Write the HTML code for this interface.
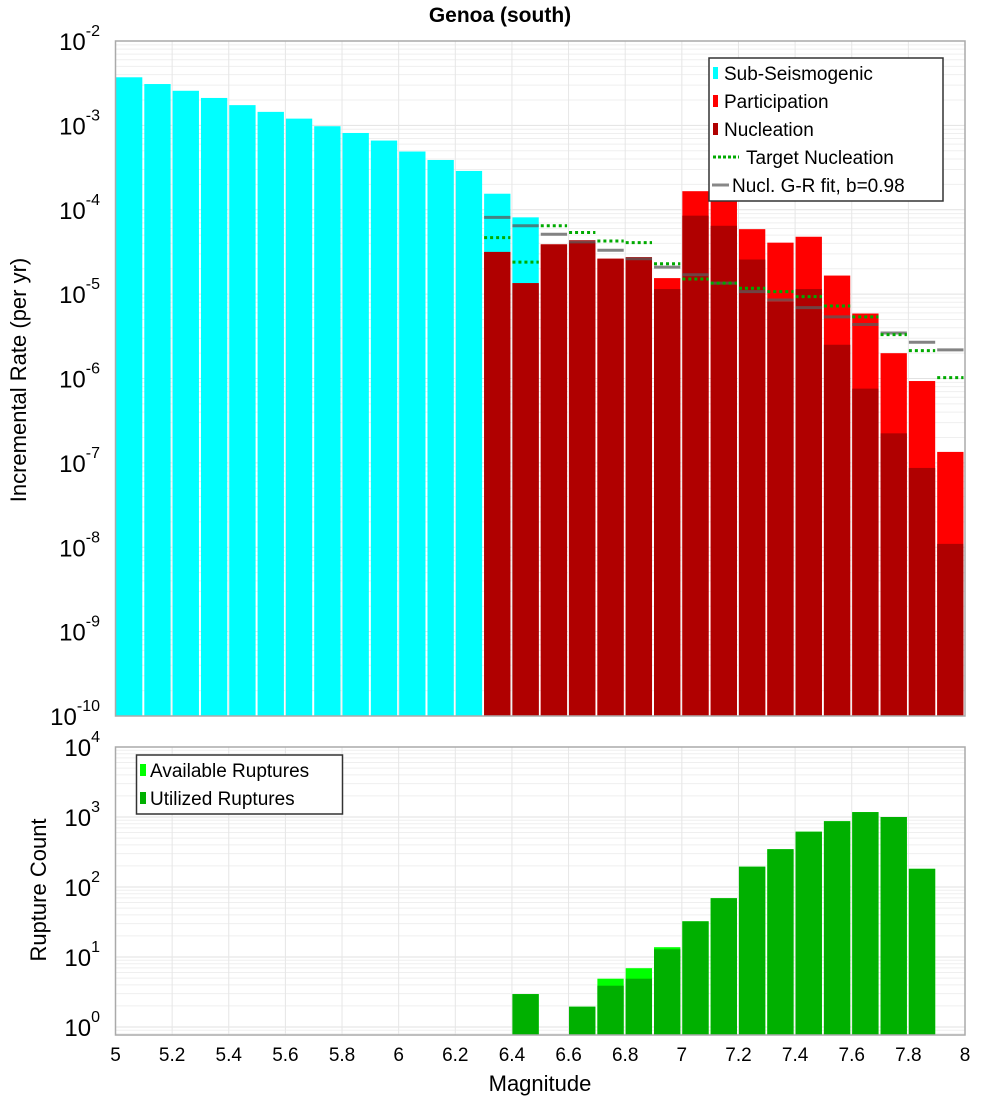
<!DOCTYPE html>
<html><head><meta charset="utf-8"><style>
body{margin:0;background:#fff;}
svg{display:block;font-family:"Liberation Sans","DejaVu Sans",sans-serif;}
</style></head><body>
<svg id="c" width="1000" height="1100"></svg>
<script>
const mags=[5.05,5.15,5.25,5.35,5.45,5.55,5.65,5.75,5.85,5.95,6.05,6.15,6.25,6.35,6.45,6.55,6.65,6.75,6.85,6.95,7.05,7.15,7.25,7.35,7.45,7.55,7.65,7.75,7.85,7.95];
const subSeisLog=[-2.43,-2.51,-2.59,-2.675,-2.76,-2.84,-2.92,-3.01,-3.09,-3.18,-3.31,-3.41,-3.54,-3.81,-4.09,null,null,null,null,null,null,null,null,null,null,null,null,null,null,null];
const partLog=[null,null,null,null,null,null,null,null,null,null,null,null,null,-4.50,-4.87,-4.41,-4.36,-4.58,-4.56,-4.81,-3.78,-3.80,-4.23,-4.39,-4.32,-4.78,-5.23,-5.70,-6.03,-6.87];
const nuclLog=[null,null,null,null,null,null,null,null,null,null,null,null,null,-4.50,-4.87,-4.41,-4.38,-4.58,-4.57,-4.94,-4.07,-4.19,-4.59,-5.09,-4.94,-5.60,-6.12,-6.65,-7.06,-7.96];
const targetLog=[null,null,null,null,null,null,null,null,null,null,null,null,null,-4.33,-4.62,-4.19,-4.27,-4.37,-4.39,-4.64,-4.82,-4.87,-4.93,-4.97,-5.03,-5.14,-5.27,-5.48,-5.67,-5.99];
const fitLog=[null,null,null,null,null,null,null,null,null,null,null,null,null,-4.09,-4.19,-4.29,-4.38,-4.48,-4.58,-4.68,-4.77,-4.87,-4.97,-5.07,-5.16,-5.27,-5.36,-5.46,-5.57,-5.66];
const availLog=[null,null,null,null,null,null,null,null,null,null,null,null,null,null,0.47,null,0.29,0.69,0.84,1.14,1.51,1.84,2.29,2.54,2.79,2.94,3.07,3.00,2.26,null];
const utilLog=[null,null,null,null,null,null,null,null,null,null,null,null,null,null,0.47,null,0.29,0.59,0.69,1.11,1.51,1.84,2.29,2.54,2.79,2.94,3.07,3.00,2.26,null];
const xTicks=[5,5.2,5.4,5.6,5.8,6,6.2,6.4,6.6,6.8,7,7.2,7.4,7.6,7.8,8];
const xTickLabels=["5","5.2","5.4","5.6","5.8","6","6.2","6.4","6.6","6.8","7","7.2","7.4","7.6","7.8","8"];
const topExps=[-2,-3,-4,-5,-6,-7,-8,-9,-10];
const botExps=[4,3,2,1,0];

const NS="http://www.w3.org/2000/svg";
const svg=document.getElementById('c');
function el(t,a,p){const e=document.createElementNS(NS,t);for(const k in a)e.setAttribute(k,a[k]);(p||svg).appendChild(e);return e;}
const X0=115.5,X1=965;
const xs=m=>X0+(m-5)/3*(X1-X0);
const T0=41,T1=716; const ty=l=>T0+(-2-l)*(T1-T0)/8;
const B0=747,B1=1035; const by=l=>B0+(4-l)*70;

// title
let t=el('text',{x:500,y:22,'text-anchor':'middle','font-size':21,'font-weight':'bold'});t.textContent='Genoa (south)';


function grid(y0,y1,yf,lo,hi,name){
  const g=el('g',{});
  for(let d=lo;d<hi;d++)for(let k=1;k<10;k++){const y=yf(d+Math.log10(k));if(y<y0||y>y1)continue;el('line',{x1:X0,x2:X1,y1:y,y2:y,stroke:k==1?'#e2e2e2':'#efefef','stroke-width':1},g);}
  xTicks.forEach(m=>{const x=xs(m);el('line',{x1:x,x2:x,y1:y0,y2:y1,stroke:'#e6e6e6','stroke-width':1},g);});
}
grid(T0,T1,ty,-10,-1,'top-grid');
grid(B0,B1,by,-1,4,'bottom-grid');

function bar(m,l,base,col,g,name){
  if(l==null)return;const x=xs(m-0.05)+0.5,w=xs(m+0.05)-xs(m-0.05)-2;const y=Math.max(base<0?T0:B0,(base<0?ty:by)(l));
  const r=el('rect',{x:x,y:y,width:w,height:(base<0?T1:B1)-y,fill:col},g);
  
}
const gt=el('g',{});
mags.forEach((m,i)=>bar(m,subSeisLog[i],-1,'#00ffff',gt,'sub-seismogenic-bar'));
mags.forEach((m,i)=>bar(m,partLog[i],-1,'#ff0000',gt,'participation-bar'));
mags.forEach((m,i)=>bar(m,nuclLog[i],-1,'#b00000',gt,'nucleation-bar'));
function seg(m,l,style,name){
  if(l==null)return;const x=xs(m-0.05)+0.5,w=xs(m+0.05)-xs(m-0.05)-2;const y=ty(l);
  const s=el('line',Object.assign({x1:x,x2:x+w,y1:y,y2:y},style),gt);
  
}
mags.forEach((m,i)=>seg(m,fitLog[i],{stroke:'rgba(90,90,90,0.75)','stroke-width':3},'gr-fit-segment'));
mags.forEach((m,i)=>seg(m,targetLog[i],{stroke:'#00aa00','stroke-width':3,'stroke-dasharray':'3 3'},'target-nucleation-segment'));

const gb=el('g',{});
mags.forEach((m,i)=>bar(m,availLog[i],1,'#00ff00',gb,'available-ruptures-bar'));
mags.forEach((m,i)=>bar(m,utilLog[i],1,'#00b000',gb,'utilized-ruptures-bar'));

// frames
el('rect',{x:X0,y:T0,width:X1-X0,height:T1-T0,fill:'none',stroke:'#aaa','stroke-width':1.5});
el('rect',{x:X0,y:B0,width:X1-X0,height:B1-B0,fill:'none',stroke:'#aaa','stroke-width':1.5});

function ylab(exp,y,name){
  const tx=el('text',{x:100,y:y+9,'text-anchor':'end','font-size':24});
  
  const a=el('tspan',{},tx);a.textContent='10';
  const b=el('tspan',{dy:-14,'font-size':16},tx);b.textContent=String(exp);
}
topExps.forEach(e=>ylab(e,ty(e),'y-tick-label-top'));
botExps.forEach(e=>ylab(e,by(e),'y-tick-label-bottom'));
xTicks.forEach((m,i)=>{const tx=el('text',{x:xs(m),y:1061,'text-anchor':'middle','font-size':19});tx.textContent=xTickLabels[i];
  });

let a=el('text',{x:540,y:1091,'text-anchor':'middle','font-size':22});a.textContent='Magnitude';
a=el('text',{x:0,y:0,'text-anchor':'middle','font-size':22,transform:'translate(26,380) rotate(-90)'});a.textContent='Incremental Rate (per yr)';
a=el('text',{x:0,y:0,'text-anchor':'middle','font-size':22,transform:'translate(46,890) rotate(-90)'});a.textContent='Rupture Count';

// legends
const lg=el('g',{});
el('rect',{x:709,y:58,width:234,height:143,fill:'#fff',stroke:'#333','stroke-width':1.5},lg);
const items=[['Sub-Seismogenic','#00ffff','box'],['Participation','#ff0000','box'],['Nucleation','#b00000','box'],['Target Nucleation','#00aa00','dot'],['Nucl. G-R fit, b=0.98','#888','line']];
items.forEach((it,i)=>{const y=73+i*28;
  if(it[2]=='box'){el('rect',{x:713,y:y-6,width:5,height:12,fill:it[1]},lg);}
  else if(it[2]=='dot'){el('line',{x1:713,x2:739,y1:y,y2:y,stroke:it[1],'stroke-width':3,'stroke-dasharray':'3 2'},lg);}
  else el('line',{x1:712,x2:729,y1:y,y2:y,stroke:it[1],'stroke-width':3},lg);
  const tx=el('text',{x:it[2]=='box'?724:(it[2]=='dot'?746:732),y:y+7,'font-size':19},lg);tx.textContent=it[0];
  });
const lb=el('g',{});
el('rect',{x:136.5,y:755,width:206,height:59,fill:'#fff',stroke:'#333','stroke-width':1.5},lb);
[['Available Ruptures','#00ff00'],['Utilized Ruptures','#00b000']].forEach((it,i)=>{const y=770+i*28;
  el('rect',{x:140,y:y-6,width:6,height:12,fill:it[1]},lb);
  const tx=el('text',{x:150,y:y+7,'font-size':19},lb);tx.textContent=it[0];
  });
</script>
</body></html>
